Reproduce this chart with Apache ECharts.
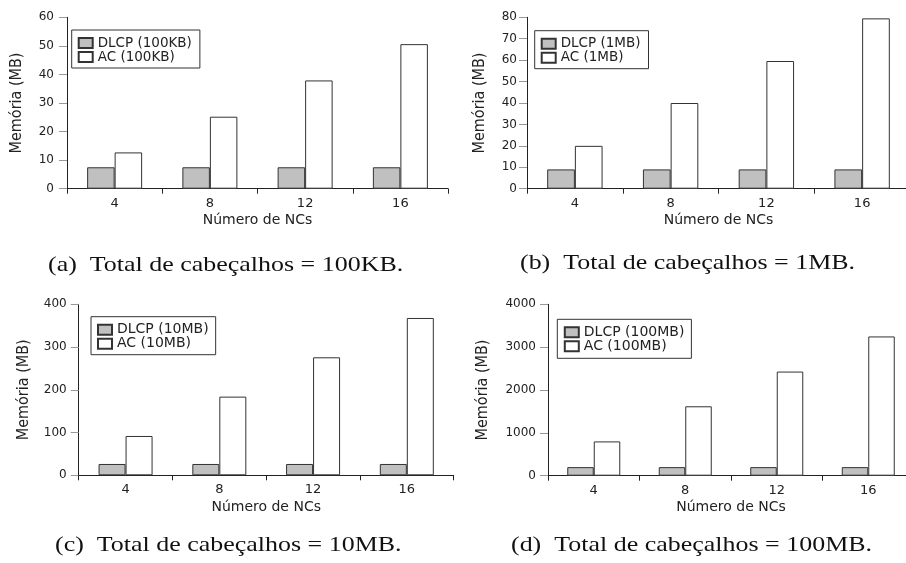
<!DOCTYPE html>
<html>
<head>
<meta charset="utf-8">
<script src="https://cdn.jsdelivr.net/npm/echarts@6/dist/echarts.min.js"></script>
<style>
html,body{margin:0;padding:0;background:#fff;}
#main{width:906px;height:563px;}
</style>
</head>
<body>
<div id="main"></div>
<script>
// ---- data ----
const categories = ['4', '8', '12', '16'];
const dlcpA = [7.5, 7.5, 7.5, 7.5];
const acA = [12.7, 25.2, 37.9, 50.6];
const dlcpB = [9, 9, 9, 9];
const acB = [20, 40, 59.6, 79.5];
const dlcpC = [26.5, 26.5, 26.5, 26.5];
const acC = [92, 184, 276, 368];
const dlcpD = [200, 200, 200, 200];
const acD = [800, 1620, 2430, 3250];
const sizeLabels = ['100KB', '1MB', '10MB', '100MB'];
const yMaxes = [60, 80, 400, 4000];
const yIntervals = [10, 10, 100, 1000];
const captions = ['(a)  Total de cabeçalhos = 100KB.', '(b)  Total de cabeçalhos = 1MB.', '(c)  Total de cabeçalhos = 10MB.', '(d)  Total de cabeçalhos = 100MB.'];
const xTitle = 'Número de NCs';
const yTitle = 'Memória (MB)';

const dlcpAll = [dlcpA, dlcpB, dlcpC, dlcpD];
const acAll = [acA, acB, acC, acD];

// ---- layout ----
const grids = [
  {left: 67, top: 17.3, width: 381, height: 171.4},
  {left: 527, top: 17.3, width: 383, height: 171.4},
  {left: 78.7, top: 304.3, width: 375, height: 171},
  {left: 548, top: 304.3, width: 366, height: 171.4}
];
const barWidths = [27.5, 27.7, 27, 26.5];
const yNameGaps = [42, 39, 47, 57];
const yLabelMargins = [13, 10, 12, 12];
const legendPos = [
  {left: 71.7, top: 30, padding: [6, 8, 4, 6], fs: 13.5},
  {left: 534.7, top: 30.7, padding: [6, 8, 4, 6], fs: 13.5},
  {left: 91, top: 316.7, padding: [6, 7, 4, 6], fs: 14},
  {left: 557.3, top: 319.3, padding: [6, 7, 5, 6.5], fs: 14}
];
const capPos = [[48, 265], [520, 263], [55, 545], [511, 545]];

const dark = '#222';
const sansFont = 'DejaVu Sans';

const option = {
  animation: false,
  backgroundColor: '#fff',
  grid: grids.map(g => Object.assign({outerBoundsMode: 'none', containLabel: false}, g)),
  xAxis: grids.map((g, i) => ({
    type: 'category',
    gridIndex: i,
    data: categories,
    boundaryGap: true,
    name: xTitle,
    nameLocation: 'middle',
    nameGap: 25,
    nameTextStyle: {fontFamily: sansFont, fontSize: 14, color: dark},
    axisLine: {show: true, lineStyle: {color: dark, width: 1}},
    axisTick: {show: true, length: 5, interval: 0, lineStyle: {color: dark}},
    axisLabel: {fontFamily: sansFont, fontSize: 13, color: dark, margin: 8, interval: 0},
    splitLine: {show: false}
  })),
  yAxis: grids.map((g, i) => ({
    type: 'value',
    gridIndex: i,
    min: 0,
    max: yMaxes[i],
    interval: yIntervals[i],
    name: yTitle,
    nameLocation: 'middle',
    nameGap: yNameGaps[i],
    nameRotate: 90,
    nameTextStyle: {fontFamily: '"Liberation Sans Narrow", "DejaVu Sans Condensed", "Liberation Sans"', fontSize: 16, color: dark},
    axisLine: {show: true, lineStyle: {color: dark, width: 1}},
    axisTick: {show: true, length: 8, lineStyle: {color: '#999'}},
    axisLabel: {fontFamily: sansFont, fontSize: 12, color: dark, margin: yLabelMargins[i], formatter: v => String(v)},
    splitLine: {show: false}
  })),
  legend: legendPos.map((l, i) => ({
    left: l.left,
    top: l.top,
    orient: 'vertical',
    padding: l.padding,
    itemGap: 0,
    itemWidth: 14,
    itemHeight: 10,
    borderColor: '#333',
    borderWidth: 1,
    backgroundColor: '#fff',
    icon: 'rect',
    textStyle: {fontFamily: sansFont, fontSize: l.fs, color: dark, lineHeight: 12},
    data: ['DLCP (' + sizeLabels[i] + ')', 'AC (' + sizeLabels[i] + ')']
  })),
  series: [],
  graphic: captions.map((c, i) => ({
    type: 'text',
    x: capPos[i][0],
    y: capPos[i][1],
    scaleX: 1.18,
    style: {
      text: c,
      x: 0, y: 0,
      fontFamily: '"Liberation Serif", "Times New Roman", serif',
      fontSize: 22,
      fill: '#111',
      textAlign: 'left',
      textVerticalAlign: 'middle'
    }
  }))
};

for (let i = 0; i < 4; i++) {
  option.series.push({
    type: 'bar',
    name: 'DLCP (' + sizeLabels[i] + ')',
    xAxisIndex: i, yAxisIndex: i,
    data: dlcpAll[i],
    barWidth: barWidths[i],
    barGap: '0%',
    itemStyle: {color: '#c0c0c0', borderColor: '#333', borderWidth: 1},
    emphasis: {disabled: true}
  });
  option.series.push({
    type: 'bar',
    name: 'AC (' + sizeLabels[i] + ')',
    xAxisIndex: i, yAxisIndex: i,
    data: acAll[i],
    barWidth: barWidths[i],
    barGap: '0%',
    itemStyle: {color: '#ffffff', borderColor: '#333', borderWidth: 1},
    emphasis: {disabled: true}
  });
}

const chart = echarts.init(document.getElementById('main'), null, {renderer: 'canvas'});
chart.setOption(option);
</script>
</body>
</html>
